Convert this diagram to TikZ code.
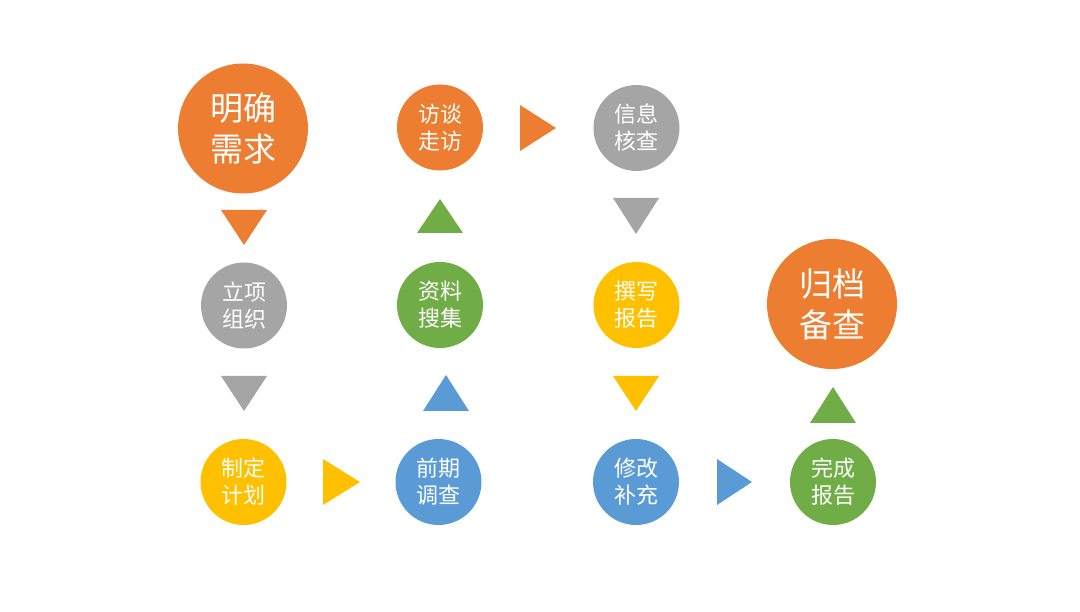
\documentclass[tikz,border=0pt]{standalone}
\usepackage{fontspec}
\newfontfamily\cjk{Noto Sans CJK SC}
\definecolor{corange}{HTML}{ED7D31}
\definecolor{cgray}{HTML}{A5A5A5}
\definecolor{cyellow}{HTML}{FFC000}
\definecolor{cblue}{HTML}{5B9BD5}
\definecolor{cgreen}{HTML}{70AD47}
\begin{document}
\begin{tikzpicture}[x=1pt,y=-1pt,
  small/.style={circle,minimum size=86pt,inner sep=0pt,text=white,align=center,font=\cjk\fontsize{22}{27}\selectfont},
  big/.style={circle,minimum size=130pt,inner sep=0pt,text=white,align=center,font=\cjk\fontsize{33}{41}\selectfont}]
\useasboundingbox (0,0) rectangle (1080,612);
% circles
\node[big,fill=corange] (mq) at (243,128.5) {明确\\需求};
\node[small,fill=cgray] (lx) at (244,305.5) {立项\\组织};
\node[small,fill=cyellow] (zd) at (243.5,482) {制定\\计划};
\node[small,fill=cblue] (qq) at (438.5,482) {前期\\调查};
\node[small,fill=cgreen] (zl) at (440,305) {资料\\搜集};
\node[small,fill=corange] (ft) at (440,127.5) {访谈\\走访};
\node[small,fill=cgray] (xx) at (636.5,128) {信息\\核查};
\node[small,fill=cyellow] (zx) at (636.5,305) {撰写\\报告};
\node[small,fill=cblue] (xg) at (636,482) {修改\\补充};
\node[small,fill=cgreen] (wc) at (833,482) {完成\\报告};
\node[big,fill=corange] (gd) at (832,304) {归档\\备查};
% triangles
\fill[corange] (221,210) -- (267,210) -- (244,245) -- cycle;
\fill[cgray] (221,376) -- (267,376) -- (244,411) -- cycle;
\fill[cyellow] (323,459) -- (323,505) -- (360,482) -- cycle;
\fill[cblue] (423,411) -- (469,411) -- (446,375) -- cycle;
\fill[cgreen] (417,233) -- (463,233) -- (440,199) -- cycle;
\fill[corange] (520,105) -- (520,151) -- (556,128) -- cycle;
\fill[cgray] (613,198) -- (659,198) -- (636,234) -- cycle;
\fill[cyellow] (613,376) -- (659,376) -- (636,411) -- cycle;
\fill[cblue] (717,459) -- (717,505) -- (752,482) -- cycle;
\fill[cgreen] (810,423) -- (856,423) -- (833,387) -- cycle;
\end{tikzpicture}
\end{document}
